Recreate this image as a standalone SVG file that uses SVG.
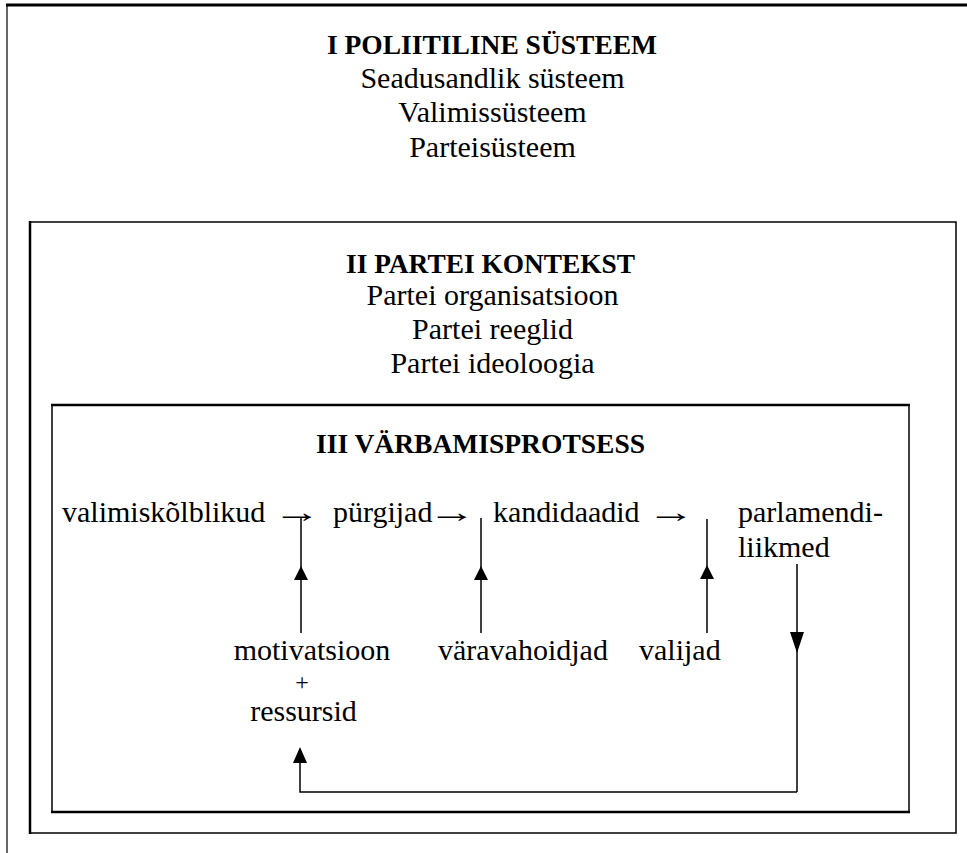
<svg xmlns="http://www.w3.org/2000/svg" width="967" height="853" viewBox="0 0 967 853">
<style>
text{font-family:"Liberation Serif","Times New Roman",serif;fill:#000}
.t{font-size:30px;text-anchor:middle}
.b{font-size:28px;font-weight:bold;text-anchor:middle}
.r{font-size:30px}
.box{fill:none;stroke:#000}
.c{fill:none;stroke:#000;stroke-width:1.5}
.ah{fill:#000}
</style>
<rect width="967" height="853" fill="#fff"/>
<g id="system">
<line x1="6" y1="5" x2="967" y2="5" stroke="#000" stroke-width="3"/>
<line x1="7" y1="4" x2="7" y2="853" stroke="#000" stroke-width="1.2"/>
<text class="b" x="492" y="54" textLength="330" lengthAdjust="spacingAndGlyphs">I POLIITILINE SÜSTEEM</text>
<text class="t" x="492.5" y="88">Seadusandlik süsteem</text>
<text class="t" x="492.5" y="122">Valimissüsteem</text>
<text class="t" x="492.5" y="157">Parteisüsteem</text>
</g>
<g id="party">
<rect class="box" x="30" y="222" width="926" height="611" stroke-width="1.5"/>
<line x1="30" y1="221" x2="30" y2="834" stroke="#000" stroke-width="2.5"/>
<text class="b" x="490.5" y="273" textLength="289" lengthAdjust="spacingAndGlyphs">II PARTEI KONTEKST</text>
<text class="t" x="492.5" y="305">Partei organisatsioon</text>
<text class="t" x="492.5" y="339">Partei reeglid</text>
<text class="t" x="492.5" y="373">Partei ideoloogia</text>
</g>
<g id="recruitment">
<rect class="box" x="52" y="405" width="857" height="407" stroke-width="1.5"/>
<line x1="51" y1="405" x2="910" y2="405" stroke="#000" stroke-width="2.5"/>
<line x1="51" y1="812" x2="910" y2="812" stroke="#000" stroke-width="2.5"/>
<text class="b" x="480.5" y="453" textLength="329" lengthAdjust="spacingAndGlyphs">III VÄRBAMISPROTSESS</text>
</g>
<g id="eligibles"><text class="r" x="62" y="522">valimiskõlblikud</text></g>
<g id="aspirants"><text class="r" x="333" y="522">pürgijad</text></g>
<g id="candidates"><text class="r" x="493" y="522">kandidaadid</text></g>
<g id="mps"><text class="r" x="738" y="522">parlamendi-<tspan x="738" y="557">liikmed</tspan></text></g>
<g id="motivation"><text class="t" x="312" y="660">motivatsioon<tspan x="302" y="690" font-size="24">+</tspan><tspan x="303.5" y="721">ressursid</tspan></text></g>
<g id="gatekeepers"><text class="r" x="438" y="660">väravahoidjad</text></g>
<g id="voters"><text class="r" x="639" y="660">valijad</text></g>
<g id="connectors">
<text class="r" transform="translate(273,522) scale(1.6,1)" x="0" y="0">→</text>
<text class="r" transform="translate(428,522) scale(1.6,1)" x="0" y="0">→</text>
<text class="r" transform="translate(647,522) scale(1.6,1)" x="0" y="0">→</text>
<line class="c" x1="301" y1="518" x2="301" y2="633"/>
<polygon class="ah" points="301,566 294,580 308,580"/>
<line class="c" x1="481" y1="518" x2="481" y2="633"/>
<polygon class="ah" points="481,566 474,580 488,580"/>
<line class="c" x1="707" y1="519" x2="707" y2="633"/>
<polygon class="ah" points="707,565 700,579 714,579"/>
<line class="c" x1="797" y1="564" x2="797" y2="792"/>
<polygon class="ah" points="797,653 790,632 804,632"/>
<polyline class="c" points="797,792 300,792 300,760" stroke-width="2"/>
<polygon class="ah" points="300,747 293,763 307,763"/>
</g>
</svg>
